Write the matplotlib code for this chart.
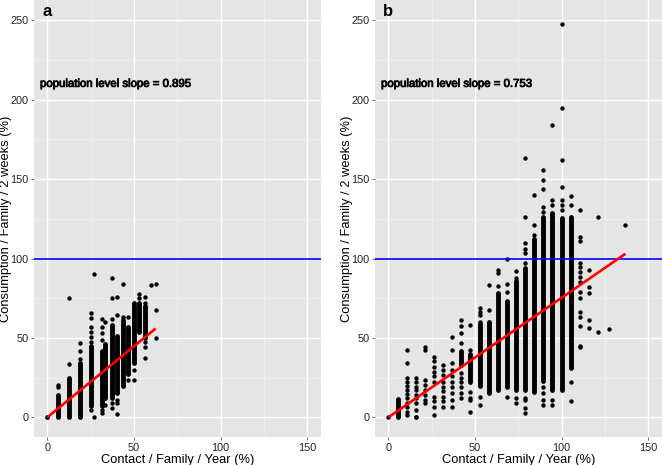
import matplotlib
matplotlib.use("Agg")
import matplotlib.pyplot as plt
import matplotlib.patheffects as pe

plt.rcParams['font.family'] = ['Liberation Sans', 'DejaVu Sans']

# ---- panel a : contact % (x) vs consumption % (y) ----
# each column: x position, dense runs of overlapping points (lo, hi), single points
a_x = [0, 6.25, 12.5, 18.75, 25, 26.8, 31.25, 33.3, 37.5, 40, 43.75, 46.8, 50, 53.1, 56.25, 60, 62.5]
a_runs = [
    [], [(0, 14)], [(0, 25)], [(0, 34)], [(7, 45)], [], [(7, 42)], [(12, 46)],
    [(12, 58)], [(15, 51)], [(20, 61)], [(27, 57)], [(34, 72)], [(54, 72)], [(50, 70)], [], [],
]
a_pts = [
    [0, 0.5],
    [19.3, 20.3],
    [33.4, 75],
    [37, 41.7, 47],
    [4.5, 47.6, 50.8, 53.5, 57, 62.7, 65.5],
    [0, 90.2],
    [2.5, 4.5, 49, 53, 57, 62],
    [60.2, 8],
    [6, 9, 62, 75, 87.6],
    [2, 9, 11, 64.5, 75.6],
    [63, 84],
    [23.5, 63.4],
    [23.5, 29.8],
    [75, 77.5],
    [37.5, 44, 47.6, 72, 75.6],
    [83.3],
    [50.1, 67.6, 84],
]
a_slope = 0.895
a_xmax = 62.5

# ---- panel b ----
b_x = [0, 5.3, 10.5, 15.8, 21.1, 26.3, 31.6, 36.8, 42.1, 47.4, 52.6, 57.9, 63.2, 68.4,
       73.7, 78.9, 84.2, 89.5, 94.7, 100, 105.3, 110.5, 115.8, 121.0, 127.6, 136.8]
b_runs = [
    [], [(0, 11.5)], [], [], [], [], [], [], [(33, 42)], [(22, 40)],
    [(20, 59)], [(15, 60)], [(17, 78)], [(19, 73)], [(17, 86)], [(17, 94)],
    [(16, 112)], [(23, 126)], [(17, 128.5)], [(17, 125.3)], [(31, 126.4)],
    [], [], [], [], [],
]
b_pts = [
    [0],
    [],
    [1.5, 3.6, 6.3, 8.9, 12, 14.7, 17.3, 19.8, 22.5, 24.6, 34.2, 42.1],
    [0, 0.5, 4.7, 8.9, 12, 14.2, 17.3, 19.3, 22, 24.5],
    [8.9, 11, 14.2, 17.3, 20.4, 23.5, 42.4, 44.5],
    [1.5, 6.7, 10, 13, 22.5, 25.7, 28.8, 31.9, 35.5, 38.2],
    [6.8, 10, 13.1, 16.3, 19.4, 22.5, 26.7, 29.8, 33],
    [6.8, 11, 15.2, 19.4, 22.5, 25.7, 30, 34.3, 42.4, 50.8],
    [12, 15, 19, 22, 25, 28, 46.6, 52.9, 57.5, 61.3],
    [3.5, 10.7, 12, 16, 42.4, 58],
    [8, 13, 60.2, 64.4, 66.5, 68.6],
    [67.6, 83.3],
    [83, 90.7, 92.8],
    [13, 79, 84, 100],
    [8.8, 12, 88, 92.3],
    [2.7, 5.8, 10.9, 12, 97, 103.3, 106, 109.6, 126.4, 163.1],
    [115, 121, 140],
    [7.7, 11, 15, 19, 129.5, 132.7, 143.8, 149.4, 155.7],
    [7.7, 11, 133.7, 137, 184],
    [130.5, 133.7, 137, 145.2, 162, 194.6, 247.5],
    [10.5, 22.4, 133.7, 139.4],
    [44.5, 44.9, 57.7, 63, 66.5, 75, 79, 85.4, 88.5, 91.7, 94.5, 97, 111, 113.7, 130.5],
    [56.4, 61.3, 78, 81.9, 92.8],
    [53.9, 126.3],
    [55.6],
    [121.1],
]
b_slope = 0.753
b_xmax = 136.8

x_ticks = [0, 50, 100, 150]
y_ticks = [0, 50, 100, 150, 200, 250]
xlabel = "Contact / Family / Year (%)"
ylabel = "Consumption / Family / 2 weeks (%)"

fig = plt.figure(figsize=(6.62, 4.65), dpi=100)
ax_a = fig.add_axes([34 / 662, 28 / 465, 287 / 662, 437 / 465])
ax_b = fig.add_axes([375 / 662, 28 / 465, 287 / 662, 437 / 465])


def draw_panel(ax, letter, xs, runs, pts, slope, xmax):
    ax.set_facecolor('#E5E5E5')
    for s in ax.spines.values():
        s.set_visible(False)
    ax.set_xlim(-7.7, 157.9)
    ax.set_ylim(-12.4, 262.8)
    ax.set_xticks(x_ticks)
    ax.set_yticks(y_ticks)
    ax.set_xticks([25, 75, 125], minor=True)
    ax.set_yticks([25, 75, 125, 175, 225], minor=True)
    ax.grid(which='major', color='white', lw=1.0)
    ax.grid(which='minor', color='#F2F2F2', lw=0.5)
    ax.set_axisbelow(True)
    ax.tick_params(which='major', length=2.5, width=0.6, color='#555555',
                   labelsize=7.8, labelcolor='#222222', pad=1.5)
    ax.tick_params(which='minor', length=0)

    # points
    for x, rr, pp in zip(xs, runs, pts):
        for lo, hi in rr:
            lc = ax.vlines(x, lo, hi, colors='black', lw=3.5, zorder=3)
            lc.set_capstyle('round')
        if pp:
            ax.scatter([x] * len(pp), pp, s=10, color='black', lw=0, zorder=3)

    ax.axhline(100, color='#0000FF', lw=1.2, zorder=4)
    ax.plot([0, xmax], [0, slope * xmax], color='#FF0000', lw=1.9, zorder=5,
            solid_capstyle='butt')

    ax.text(-4.2, 210, f"population level slope = {slope}", fontsize=8.2,
            ha='left', va='center', color='black',
            path_effects=[pe.withStroke(linewidth=0.6, foreground='black')])
    ax.text(0.028, 0.973, letter, transform=ax.transAxes, fontsize=12,
            fontweight='bold', ha='left', va='center')

    ax.set_xlabel(xlabel, fontsize=9.3)
    ax.set_ylabel(ylabel, fontsize=9.3)
    ax.xaxis.set_label_coords(0.5, -0.04)
    ax.yaxis.set_label_coords(-0.078, 0.5)


draw_panel(ax_a, 'a', a_x, a_runs, a_pts, a_slope, a_xmax)
draw_panel(ax_b, 'b', b_x, b_runs, b_pts, b_slope, b_xmax)

fig.savefig('out.png', dpi=100)
